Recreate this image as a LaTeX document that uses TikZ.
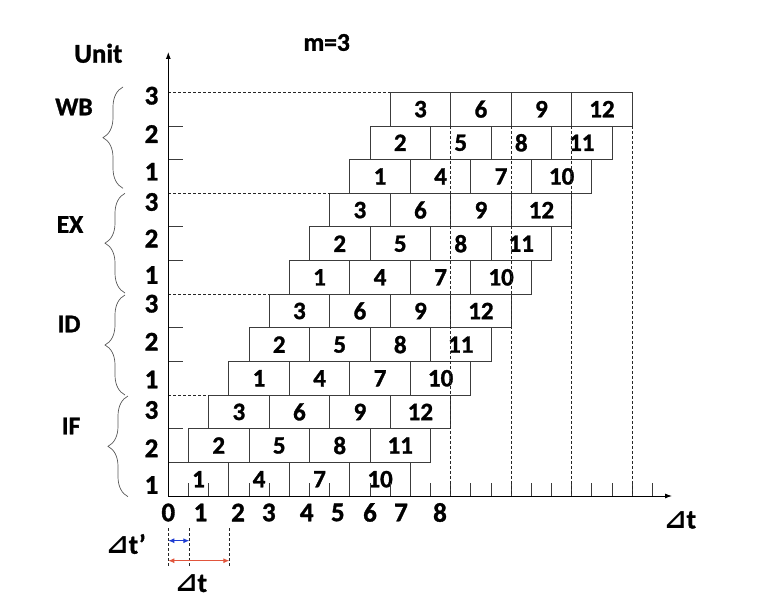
\documentclass[tikz,border=0pt]{standalone}
\usepackage{fontspec}
\setmainfont{Carlito}[BoldFeatures={FakeBold=1.2}]
\newfontfamily\trifont{DejaVu Sans}
\usetikzlibrary{arrows.meta,decorations.pathreplacing}
\definecolor{boxline}{RGB}{60,60,60}
\definecolor{arrblue}{RGB}{30,60,210}
\definecolor{arrred}{RGB}{225,85,60}
\newcommand{\dtri}{{\trifont\bfseries ⊿}}
\begin{document}
\begin{tikzpicture}[x=1pt,y=-1pt,
  cell/.style={draw=boxline, line width=0.8pt, minimum width=60.51pt, minimum height=33.64pt,
    inner sep=0pt, outer sep=0pt, anchor=south west, font=\fontsize{25}{25}\selectfont\bfseries},
  lbl/.style={font=\fontsize{27}{27}\selectfont\bfseries, inner sep=0pt, outer sep=0pt},
  stg/.style={font=\fontsize{25.5}{25.5}\selectfont\bfseries, inner sep=0pt, outer sep=0pt},
  dsh/.style={line width=0.7pt, dash pattern=on 3pt off 2pt, black!85},
  axis/.style={line width=0.9pt, black, -{Latex[length=7pt,width=5pt]}},
  tck/.style={line width=0.8pt, boxline},
  brc/.style={decorate, decoration={brace, amplitude=20pt}, line width=0.7pt, black!65},
  darr/.style={line width=0.9pt, {Latex[length=6pt,width=5pt]}-{Latex[length=6pt,width=5pt]}}
]
\useasboundingbox (0,0) rectangle (760,602);
% boxes
\foreach \s in {0,...,3}{
  \foreach \u in {1,2,3}{
    \foreach \j in {0,...,3}{
      \pgfmathtruncatemacro{\i}{\u+3*\j}
      \pgfmathsetmacro{\xs}{168.3+(\i-1+3*\s)*20.17}
      \pgfmathsetmacro{\yb}{496-(3*\s+\u-1)*33.64}
      \node[cell] (b\s-\i) at (\xs,\yb) {\i};
    }
  }
}
% axes
\coordinate (O) at (168.3,496);
\coordinate (xend) at (672,496);
\coordinate (yend) at (168.3,52);
% y-axis ticks and dashed stage lines
\foreach \s in {0,...,3}{
  \foreach \u in {1,2}{
    \pgfmathsetmacro{\yt}{496-(3*\s+\u)*33.64}
    \draw[tck] (168.3,\yt) -- (182.7,\yt);
  }
  \draw[dsh] (O |- b\s-3.north west) -- (b\s-3.north west);
}
% x-axis ticks
\foreach \t in {1,...,24}{
  \draw[tck] (168.3+\t*20.17,496) -- ++(0,-13.3);
}
% vertical dashed lines
\foreach \i in {3,6,9,12}{
  \draw[dsh] (b3-\i.south east) -- (b3-\i.south east |- O);
}
\draw[axis] (O) -- (xend);
\draw[axis] (O) -- (yend);
% unit labels
\node[lbl] (u33) at (151.5,95.7) {3};
\node[lbl] (u32) at (151.5,134) {2};
\node[lbl] (u31) at (151.5,171.7) {1};
\node[lbl] (u23) at (151.5,202) {3};
\node[lbl] (u22) at (151.5,238.5) {2};
\node[lbl] (u21) at (151.5,275) {1};
\node[lbl] (u13) at (151.5,303.7) {3};
\node[lbl] (u12) at (151.5,341.7) {2};
\node[lbl] (u11) at (151.5,379.5) {1};
\node[lbl] (u03) at (151.5,410) {3};
\node[lbl] (u02) at (151.5,448.3) {2};
\node[lbl] (u01) at (151.5,485) {1};
% braces
\draw[brc] (123,188.3) -- (123,87);
\draw[brc] (125,293) -- (125,193.3);
\draw[brc] (125,395) -- (125,295);
\draw[brc] (128,496.7) -- (128,396);
% stage labels
\node[stg] (sWB) at (74,107) {WB};
\node[stg] (sEX) at (70,224.5) {EX};
\node[stg] (sID) at (69,324) {ID};
\node[stg] (sIF) at (71,426) {IF};
\node[lbl] (unit) at (98.3,53.3) {Unit};
\node[stg] (m) at (326.7,42.5) {m=3};
% x-axis labels
\foreach \v/\xx in {0/168.3,1/200.5,2/238,3/268.8,4/306.7,5/337.8,6/370,7/401,8/440}{
  \node[lbl] (x\v) at (\xx,512.5) {\v};
}
\node[lbl] (dtR) at (680,520) {\dtri t};
% delta-t annotation
\coordinate (d0t) at (168.3,528); \coordinate (d0b) at (168.3,567);
\coordinate (d1t) at (189.3,528); \coordinate (d1b) at (189.3,567);
\coordinate (d2t) at (229.3,528); \coordinate (d2b) at (229.3,567);
\draw[dsh] (d0t) -- (d0b);
\draw[dsh] (d1t) -- (d1b);
\draw[dsh] (d2t) -- (d2b);
\draw[darr, arrblue] (d0t |- 0,540.7) -- (d1t |- 0,540.7);
\draw[darr, arrred] (d0t |- 0,560.7) -- (d2t |- 0,560.7);
\node[lbl] (dtp) at (126,544) {\dtri t’};
\node[lbl] (dtb) at (191,583.5) {\dtri t};
\end{tikzpicture}
\end{document}
